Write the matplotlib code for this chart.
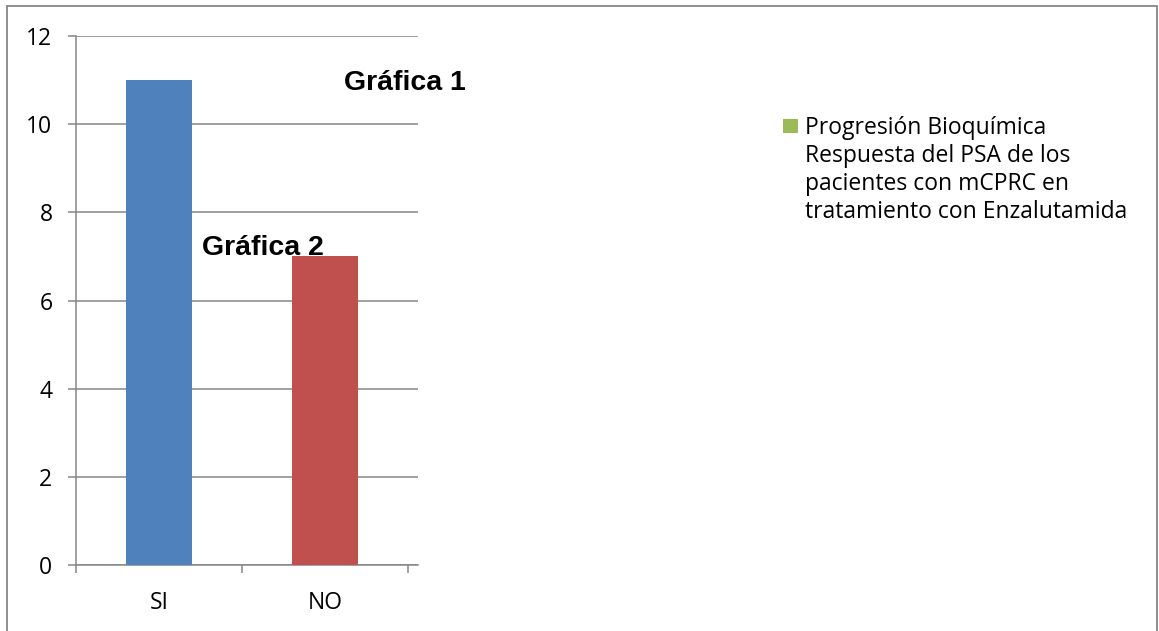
import matplotlib.pyplot as plt
from matplotlib.patches import Rectangle

categories = ["SI", "NO"]
values = [11, 7]
bar_colors = ["#4F81BD", "#C0504D"]
legend_color = "#9BBB59"
legend_label = ("Progresión Bioquímica\nRespuesta del PSA de los\n"
                "pacientes con mCPRC en\ntratamiento con Enzalutamida")
yticks = [0, 2, 4, 6, 8, 10, 12]

W, H = 1159, 631
grid_color = "#868686"

fig = plt.figure(figsize=(W / 100, H / 100), dpi=100)

# outer chart frame
fig.patches.append(Rectangle((7 / W, -0.1), (1157 - 7) / W, (H - 6) / H + 0.1,
                             transform=fig.transFigure, fill=False,
                             edgecolor=grid_color, linewidth=1.3))

ax = fig.add_axes([76 / W, 66 / H, (418 - 76) / W, (565 - 36) / H])

x = list(range(len(categories)))
ax.bar(x, values, width=0.4, color=bar_colors, zorder=3)

ax.set_xlim(-0.5, 1.56)
ax.set_ylim(0, 12)
ax.set_yticks(yticks)
ax.set_xticks(x)
ax.set_xticklabels(categories)
ax.set_xticks([-0.5, 0.5, 1.5], minor=True)

ax.grid(axis="y", color=grid_color, linewidth=1.1, zorder=0)
for side in ["top", "right"]:
    ax.spines[side].set_visible(False)
ax.spines["left"].set_color(grid_color)
ax.spines["bottom"].set_color(grid_color)
ax.spines["left"].set_linewidth(1.1)
ax.spines["bottom"].set_linewidth(1.1)

ax.tick_params(axis="y", length=6, color=grid_color, width=1.1, pad=11,
               labelsize=16.5)
ax.tick_params(axis="x", which="major", length=0, pad=19, labelsize=16.5)
ax.tick_params(axis="x", which="minor", length=6, color=grid_color, width=1.1)
for lab in ax.get_xticklabels() + ax.get_yticklabels():
    lab.set_fontfamily("Open Sans")

fig.text(344 / W, 1 - 90 / H, "Gráfica 1", fontsize=20.5, fontweight="bold",
         family="Liberation Sans", va="baseline", ha="left")
fig.text(202 / W, 1 - 255 / H, "Gráfica 2", fontsize=20.5, fontweight="bold",
         family="Liberation Sans", va="baseline", ha="left")

# legend: green key aligned with first line of the multi-line label
fig.patches.append(Rectangle((783 / W, 1 - 133 / H), 15 / W, 14 / H,
                             transform=fig.transFigure, facecolor=legend_color,
                             edgecolor="none"))
fig.text(805 / W, 1 - 116 / H, legend_label, fontsize=16.5,
         family="Open Sans", va="top", ha="left", linespacing=1.23)

fig.savefig("out.png", dpi=100)
